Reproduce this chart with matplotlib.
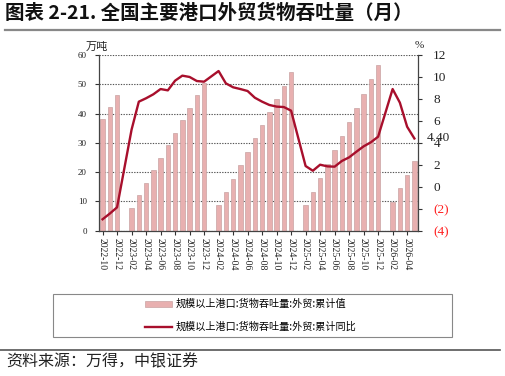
import matplotlib
matplotlib.use("Agg")
import matplotlib.pyplot as plt
from matplotlib.patches import Rectangle, Patch
from matplotlib.lines import Line2D
import numpy as np

plt.rcParams['font.family'] = ['Noto Sans CJK SC', 'DejaVu Sans']

months = [
    "2022-10", "2022-11", "2022-12",
    "2023-01", "2023-02", "2023-03", "2023-04", "2023-05", "2023-06",
    "2023-07", "2023-08", "2023-09", "2023-10", "2023-11", "2023-12",
    "2024-01", "2024-02", "2024-03", "2024-04", "2024-05", "2024-06",
    "2024-07", "2024-08", "2024-09", "2024-10", "2024-11", "2024-12",
    "2025-01", "2025-02", "2025-03", "2025-04", "2025-05", "2025-06",
    "2025-07", "2025-08", "2025-09", "2025-10", "2025-11", "2025-12",
    "2026-01", "2026-02", "2026-03", "2026-04", "2026-05",
]

cum_value = [
    38.1, 42.1, 46.2,
    None, 7.9, 12.2, 16.2, 20.6, 24.8, 29.2, 33.3, 37.8, 41.8, 46.2, 50.6,
    None, 8.8, 13.2, 17.5, 22.3, 27.0, 31.5, 36.2, 40.6, 45.0, 49.5, 54.1,
    None, 8.8, 13.2, 18.1, 22.8, 27.6, 32.3, 37.2, 41.9, 46.7, 51.7, 56.6,
    None, 9.8, 14.6, 19.0, 23.8,
]

cum_yoy = [
    -2.96, -2.44, -1.87,
    None, 5.2, 7.75, 8.06, 8.42, 8.90, 8.78, 9.66, 10.12, 10.0, 9.63, 9.57,
    None, 10.54, 9.42, 9.06, 8.90, 8.72, 8.11, 7.75, 7.45, 7.30, 7.26, 6.93,
    None, 1.89, 1.46, 2.01, 1.86, 1.83, 2.35, 2.68, 3.19, 3.68, 4.05, 4.56,
    None, 8.90, 7.66, 5.47, 4.40,
]

left_ticks = [0, 10, 20, 30, 40, 50, 60]
right_ticks = [-4, -2, 0, 2, 4, 6, 8, 10, 12]

title = "图表 2-21. 全国主要港口外贸货物吞吐量（月）"
label_bar = "规模以上港口:货物吞吐量:外贸:累计值"
label_line = "规模以上港口:货物吞吐量:外贸:累计同比"
source = "资料来源：万得，中银证券"
last_label = "4.40"

bar_color = "#E8B0B0"
bar_edge = "#C9A3A3"
line_color = "#A80F2C"
serif = "Liberation Serif"

W, H = 505, 376
fig = plt.figure(figsize=(W / 100, H / 100), dpi=100)

ax = fig.add_axes([99.3 / W, 1 - 230.7 / H, (418 - 99.3) / W, (230.7 - 55) / H])
ax2 = ax.twinx()

x = np.arange(len(months))
bx = [i for i, v in enumerate(cum_value) if v is not None]
bv = [v for v in cum_value if v is not None]
ax.bar(bx, bv, width=0.62, color=bar_color, edgecolor=bar_edge, linewidth=0.5, zorder=2)

lx = [i for i, v in enumerate(cum_yoy) if v is not None]
lv = [v for v in cum_yoy if v is not None]
ax2.plot(lx, lv, color=line_color, linewidth=1.7, zorder=3, solid_joinstyle='round')

ax.set_xlim(-0.45, len(months) - 0.5)
ax.set_ylim(0, 60)
ax2.set_ylim(-4, 12)

ax.set_yticks(left_ticks)
ax.set_yticklabels([str(t) for t in left_ticks], fontfamily=serif, fontsize=6.5)
ax.tick_params(axis='y', direction='out', length=3, width=0.8, pad=6, colors="#333333")
for lab in ax.get_yticklabels():
    lab.set_color("#222222")

ax.set_xticks(x[::2])
ax.set_xticklabels(months[::2], rotation=270, fontfamily=serif, fontsize=7)
ax.tick_params(axis='x', direction='out', length=3, width=0.8, pad=2, colors="#333333")
for lab in ax.get_xticklabels():
    lab.set_color("#222222")

ax2.set_yticks(right_ticks)
rlabels = [("(%d)" % abs(t)) if t < 0 else str(t) for t in right_ticks]
ax2.set_yticklabels(rlabels, fontfamily=serif, fontsize=9.5)
ax2.tick_params(axis='y', direction='out', length=3, width=0.8, pad=8, colors="#333333")
for t, lab in zip(right_ticks, ax2.get_yticklabels()):
    lab.set_color("#FF2020" if t < 0 else "#222222")

ax.grid(axis='y', linestyle=(0, (1.2, 1.2)), color="#555555", linewidth=0.8, zorder=0)
ax.set_axisbelow(True)

for a in (ax, ax2):
    a.spines['top'].set_visible(False)
    for s in ('left', 'right', 'bottom'):
        a.spines[s].set_color("#444444")
        a.spines[s].set_linewidth(0.9)
ax.spines['right'].set_visible(False)
ax2.spines['left'].set_visible(False)
ax2.spines['bottom'].set_visible(False)

# last value annotation (overlaps the "4" tick label, as in the original)
ax2.annotate(last_label, xy=(1.0, lv[-1]), xycoords=('axes fraction', 'data'),
             xytext=(6.5, 0), textcoords='offset points',
             fontfamily=serif, fontsize=9.5, color="#222222", va='center', ha='left',
             annotation_clip=False)

# unit labels
fig.text(96.7 / W, 1 - 46.7 / H, "万吨", fontsize=8, ha='center', va='center', color="#222222")
fig.text(419 / W, 1 - 46 / H, "%", fontsize=8, ha='center', va='center', color="#222222",
         fontfamily=serif)

# title and rule
fig.text(5 / W, 1 - 13 / H, title, fontsize=14, fontweight='bold', ha='left', va='center',
         color="#111111")
fig.add_artist(Line2D([5 / W, 500 / W], [1 - 29.5 / H, 1 - 29.5 / H], color="#888888",
                      linewidth=1.6, transform=fig.transFigure))

# legend box
fig.add_artist(Rectangle((53 / W, 1 - 337 / H), (452 - 53) / W, (337 - 294) / H,
                         transform=fig.transFigure, facecolor='none', edgecolor="#888888",
                         linewidth=0.8))
handles = [Patch(facecolor=bar_color, edgecolor=bar_edge, linewidth=0.5),
           Line2D([], [], color=line_color, linewidth=1.7)]
fig.legend(handles, [label_bar, label_line], loc='center',
           bbox_to_anchor=(251 / W, 1 - 315.5 / H), frameon=False, fontsize=7.3,
           handlelength=2.6, handleheight=0.55, labelspacing=1.25, handletextpad=0.45,
           borderpad=0.2)

# bottom rule and source
fig.add_artist(Line2D([0, 500 / W], [1 - 349.5 / H, 1 - 349.5 / H], color="#555555",
                      linewidth=1.2, transform=fig.transFigure))
fig.text(6 / W, 1 - 362 / H, source, fontsize=11.5, ha='left', va='center', color="#222222")

fig.savefig("out.png", dpi=100)
